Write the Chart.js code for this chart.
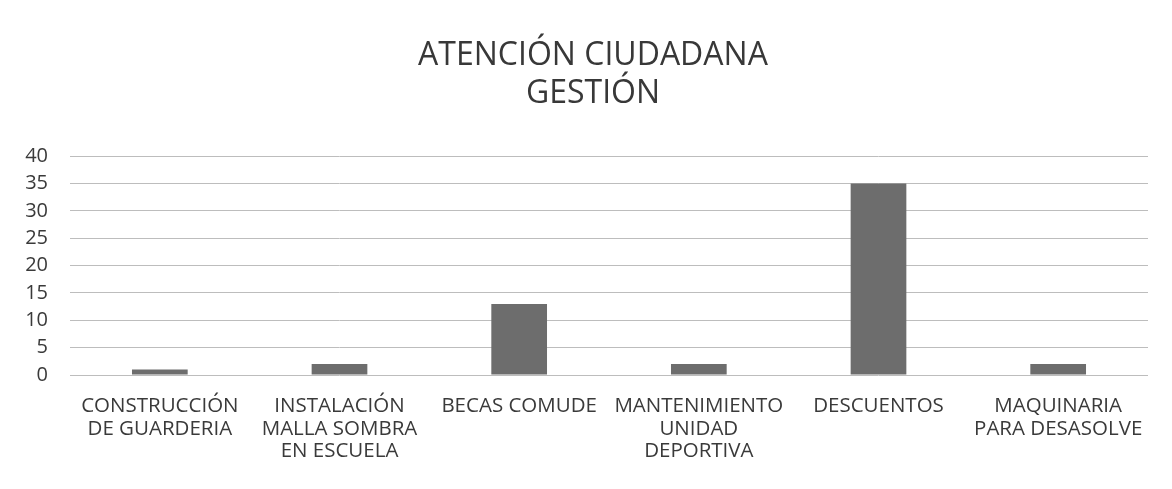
<!DOCTYPE html>
<html>
<head>
<meta charset="utf-8">
<script src="https://cdn.jsdelivr.net/npm/chart.js@4.4.1/dist/chart.umd.min.js"></script>
<style>
  html, body { margin: 0; padding: 0; background: #ffffff; }
  #wrap { width: 1172px; height: 489px; position: relative; }
</style>
</head>
<body>
<div id="wrap"><canvas id="c" width="1172" height="489"></canvas></div>
<script>
const categories = [
  ["CONSTRUCCIÓN", "DE GUARDERIA"],
  ["INSTALACIÓN", "MALLA SOMBRA", "EN ESCUELA"],
  "BECAS COMUDE",
  ["MANTENIMIENTO", "UNIDAD", "DEPORTIVA"],
  "DESCUENTOS",
  ["MAQUINARIA", "PARA DESASOLVE"]
];
const values = [1, 2, 13, 2, 35, 2];
const titleLines = ["ATENCIÓN CIUDADANA", "GESTIÓN"];
const yMin = 0, yMax = 40, yStep = 5;

const FONT = "'Open Sans', sans-serif";
const TEXT = '#3a3a3a';

// shift the title box so it is centred like the original (over the area right of the tick labels)
const titleShift = {
  id: 'titleShift',
  afterLayout(chart) {
    if (chart.titleBlock) chart.titleBlock.left += 38;
  }
};

new Chart(document.getElementById('c'), {
  type: 'bar',
  data: {
    labels: categories,
    datasets: [{
      data: values,
      backgroundColor: '#6d6d6d',
      borderWidth: 0,
      categoryPercentage: 1.0,
      barPercentage: 0.31
    }]
  },
  plugins: [titleShift],
  options: {
    responsive: false,
    animation: false,
    layout: { padding: { left: 0, right: 24, top: 0, bottom: 0 } },
    plugins: {
      legend: { display: false },
      tooltip: { enabled: false },
      title: {
        display: true,
        text: titleLines,
        color: '#383838',
        font: { family: FONT, size: 32, weight: 'normal', lineHeight: 1.19 },
        padding: { top: 37, bottom: 43 }
      }
    },
    scales: {
      x: {
        grid: { display: false, drawTicks: false },
        border: { display: false },
        ticks: {
          color: TEXT,
          font: { family: FONT, size: 20.5, lineHeight: 1.1 },
          padding: 20,
          maxRotation: 0,
          autoSkip: false
        },
        afterFit: (s) => { s.height = 114; }
      },
      y: {
        min: yMin, max: yMax,
        grid: { color: '#bdbdbd', lineWidth: 1, drawTicks: false },
        border: { display: false },
        ticks: {
          stepSize: yStep,
          color: TEXT,
          font: { family: FONT, size: 20 },
          padding: 22
        },
        afterFit: (s) => { s.width = 70; }
      }
    }
  }
});
</script>
</body>
</html>
